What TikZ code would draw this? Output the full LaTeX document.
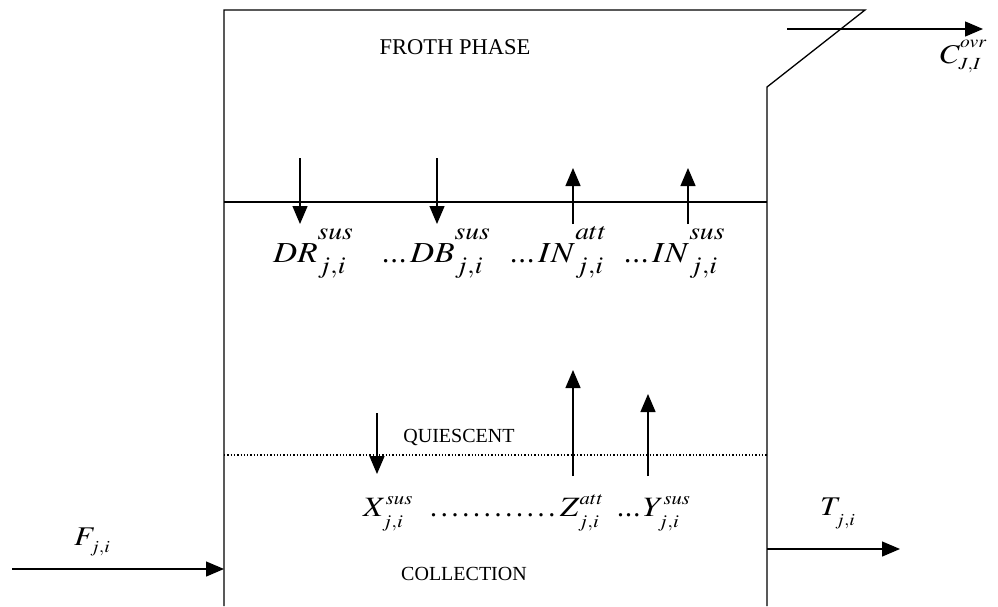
\documentclass[tikz,border=0pt]{standalone}
\usepackage{graphicx}
\usepackage{mathptmx}
\usepackage{fontspec}
\setmainfont{Liberation Serif}
\usetikzlibrary{arrows.meta}
\DeclareMathSizes{29}{29}{24}{18}
\DeclareMathSizes{28}{28}{18}{13}
\DeclareMathSizes{27}{27}{17}{12}
\newcommand{\wide}[1]{\scalebox{1.15}[1]{#1}}
\newcommand{\dotrun}[2]{\makebox[#1]{\xleaders\hbox{\hspace{#2}.\hspace{#2}}\hfill}}
% base, superscript, subscript, extra lift of superscript, extra drop of subscript
\newcommand{\flux}[5]{\wide{${#1}^{\raisebox{#4}{$\scriptstyle #2$}}_{\raisebox{-#5}{$\scriptstyle #3$}}$}}
\begin{document}
\begin{tikzpicture}[x=1pt, y=-1pt,
  wall/.style={line width=1.3pt},
  flow/.style={-{Triangle[length=18pt,width=15pt]}, line width=1.3pt},
  phase/.style={font=\fontsize{22.5}{26}\selectfont},
  zone/.style={font=\fontsize{20}{24}\selectfont},
  bigterm/.style={font=\fontsize{29}{34}\selectfont, anchor=base west, inner sep=0pt},
  term/.style={font=\fontsize{28}{32}\selectfont, anchor=base west, inner sep=0pt},
  stream/.style={font=\fontsize{27}{31}\selectfont, anchor=base west, inner sep=0pt}
]
\useasboundingbox (0,0) rectangle (998,606);
% cell walls and weir lip
\coordinate (topleft) at (224,10);
\coordinate (lip) at (865,10);
\coordinate (weir) at (767,87);
\coordinate (botleft) at (224,606);
\coordinate (botright) at (767,606);
\draw[wall] (botleft) -- (topleft) -- (lip) -- (weir) -- (botright);
% interfaces
\coordinate (frothL) at (224,202);
\coordinate (frothR) at (767,202);
\coordinate (quietL) at (224,455);
\coordinate (quietR) at (767,455);
\draw[wall] (frothL) -- (frothR);
\draw[line width=1.3pt, dotted] (quietL) -- (quietR);

% zone names
\node[phase] (froth) at (455,47) {FROTH PHASE};
\node[zone] (quiet) at (459,437) {QUIESCENT};
\node[zone] (collect) at (464,574) {COLLECTION};

% froth/pulp exchange terms
\node[bigterm] (drsus) at (273,262) {\flux{DR}{sus}{j,i}{12pt}{4pt}};
\node[bigterm] (dots1) at (381,262) {\dotrun{26pt}{0.5pt}};
\node[bigterm] (dbsus) at (410,262) {\flux{DB}{sus}{j,i}{12pt}{4pt}};
\node[bigterm] (dots2) at (509,262) {\dotrun{26pt}{0.5pt}};
\node[bigterm] (inatt) at (538,262) {\flux{IN}{att}{j,i}{12pt}{4pt}};
\node[bigterm] (dots3) at (623,262) {\dotrun{26pt}{0.5pt}};
\node[bigterm] (insus) at (652,262) {\flux{IN}{sus}{j,i}{12pt}{4pt}};

% quiescent/collection exchange terms
\node[term] (xsus) at (363,516) {\flux{X}{sus}{j,i}{1pt}{5pt}};
\node[term] (dots4) at (428,516) {\dotrun{129pt}{1.85pt}};
\node[term] (zatt) at (560,516) {\flux{Z}{att}{j,i}{1pt}{5pt}};
\node[term] (dots5) at (616,516) {\dotrun{25pt}{0.4pt}};
\node[term] (ysus) at (643,516) {\flux{Y}{sus}{j,i}{1pt}{5pt}};

% froth/pulp transfer
\coordinate (drA) at (300,158); \coordinate (drB) at (300,224);
\coordinate (dbA) at (437,158); \coordinate (dbB) at (437,224);
\coordinate (iaA) at (573,224); \coordinate (iaB) at (573,168);
\coordinate (isA) at (688,224); \coordinate (isB) at (688,168);
\draw[flow] (drA) -- (drB);
\draw[flow] (dbA) -- (dbB);
\draw[flow] (iaA) -- (iaB);
\draw[flow] (isA) -- (isB);

% quiescent/collection transfer
\coordinate (xA) at (377,413); \coordinate (xB) at (377,474);
\coordinate (zA) at (573,476); \coordinate (zB) at (573,370);
\coordinate (yA) at (648,476); \coordinate (yB) at (648,394);
\draw[flow] (xA) -- (xB);
\draw[flow] (zA) -- (zB);
\draw[flow] (yA) -- (yB);

% streams in and out
\coordinate (feedin) at (12,569);
\coordinate (feedwall) at (224,569);
\coordinate (tailwall) at (767,549);
\coordinate (tailout) at (900,549);
\coordinate (concin) at (787,29);
\coordinate (concout) at (983,29);
\draw[flow] (feedin) -- (feedwall);
\draw[flow] (tailwall) -- (tailout);
\draw[flow] (concin) -- (concout);
\node[stream] (feed) at (74,545) {\flux{F}{}{j,i}{0pt}{1pt}};
\node[stream] (tail) at (820,515) {\flux{T}{}{j,i}{0pt}{4pt}};
\node[stream] (conc) at (940,63) {\flux{C}{ovr}{J,I}{6pt}{0pt}};
\end{tikzpicture}
\end{document}
